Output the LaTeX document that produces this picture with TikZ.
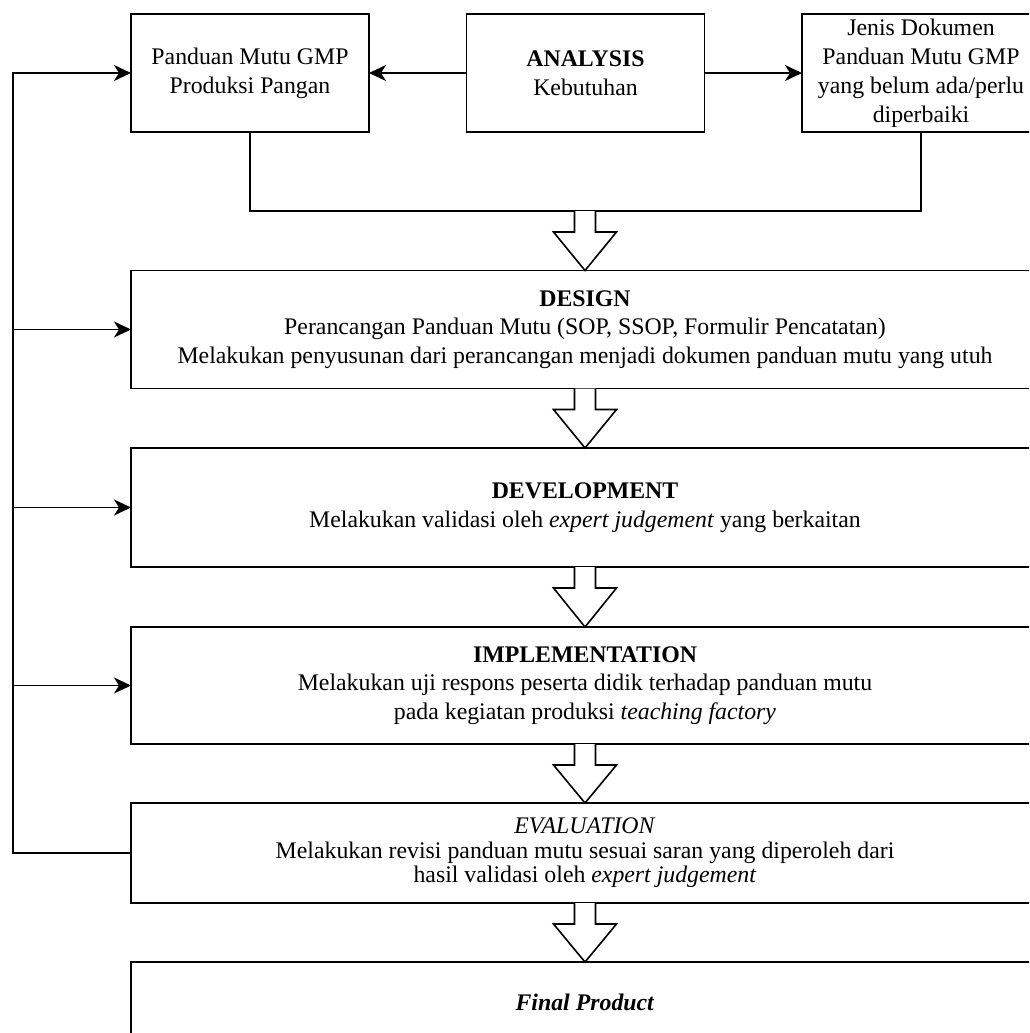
\documentclass[tikz,border=0pt]{standalone}
\usepackage{fontspec}
\setmainfont{Liberation Serif}
\usetikzlibrary{arrows.meta,calc}
\tikzset{
  box/.style={draw, line width=1.6pt, rectangle, inner sep=0pt, outer sep=0pt, align=center, font=\fontsize{23.8}{28.8}\selectfont},
  bigbox/.style={box, minimum width=908pt},
  arr/.style={line width=1.6pt, -{Stealth[length=17pt,width=16pt,inset=5pt]}},
  ln/.style={line width=1.6pt},
  blk/.style={line width=1.6pt, fill=white, line join=miter},
}
\newcommand\hollowarrow[2]{\draw[blk] ($(#1)+(-10.5,0)$) -- ++(0,21) -- ++(-21,0) -- (#2) -- ($(#1)+(31.5,21)$) -- ++(-21,0) -- ++(0,-21);}
\begin{document}
\begin{tikzpicture}[x=1pt,y=-1pt]
\useasboundingbox (0,0) rectangle (1029,1033);
\clip (0,0) rectangle (1029,1033);
% top row
\node[box, minimum width=238pt, minimum height=118pt] (pm) at (250,73) {Panduan Mutu GMP\\Produksi Pangan};
\node[box, minimum width=238pt, minimum height=118pt] (an) at (585.5,73) {\textbf{ANALYSIS}\\Kebutuhan};
\node[box, minimum width=238pt, minimum height=118pt, font=\fontsize{23.8}{29}\selectfont] (jd) at (921,73) {Jenis Dokumen\\Panduan Mutu GMP\\yang belum ada/perlu\\diperbaiki};
% main column
\node[bigbox, minimum height=118pt] (design) at (585,329.5) {\textbf{DESIGN}\\Perancangan Panduan Mutu (SOP, SSOP, Formulir Pencatatan)\\Melakukan penyusunan dari perancangan menjadi dokumen panduan mutu yang utuh};
\node[bigbox, minimum height=119pt] (dev) at (585,507.5) {\textbf{DEVELOPMENT}\\Melakukan validasi oleh \textit{expert judgement} yang berkaitan};
\node[bigbox, minimum height=117pt] (impl) at (585,685.5) {\textbf{IMPLEMENTATION}\\Melakukan uji respons peserta didik terhadap panduan mutu\\pada kegiatan produksi \textit{teaching factory}};
\node[bigbox, minimum height=100pt, font=\fontsize{23.8}{24.5}\selectfont] (eval) at (585,853) {\textit{EVALUATION}\\Melakukan revisi panduan mutu sesuai saran yang diperoleh dari\\hasil validasi oleh \textit{expert judgement}};
\node[bigbox, minimum height=80pt] (final) at (585,1002) {\textbf{\textit{Final Product}}};
% analysis arrows
\draw[arr] (an.west) -- (pm.east);
\draw[arr] (an.east) -- (jd.west);
% bracket
\coordinate (br) at (585,211);
\draw[ln] (pm.south) |- (br) -| (jd.south);
% hollow arrows
\hollowarrow{br}{design.north}
\hollowarrow{design.south}{dev.north}
\hollowarrow{dev.south}{impl.north}
\hollowarrow{impl.south}{eval.north}
\hollowarrow{eval.south}{final.north}
% feedback loop
\coordinate (fb) at (13,853);
\draw[arr] (eval.west) -- (fb) |- (pm.west);
\draw[arr] (fb |- design.west) -- (design.west);
\draw[arr] (fb |- dev.west) -- (dev.west);
\draw[arr] (fb |- impl.west) -- (impl.west);
\end{tikzpicture}
\end{document}
